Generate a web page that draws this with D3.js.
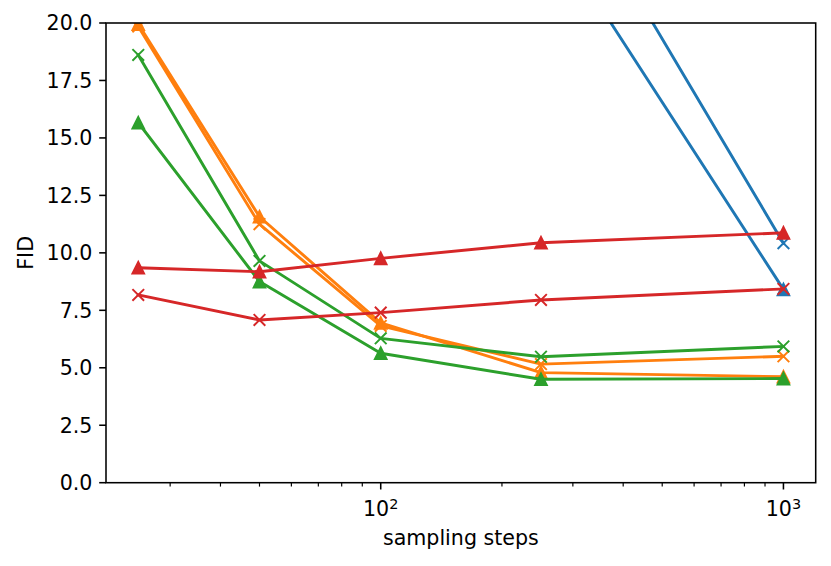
<!DOCTYPE html>
<html>
<head>
<meta charset="utf-8">
<script src="https://cdn.jsdelivr.net/npm/d3@7"></script>
<style>
  html, body { margin: 0; padding: 0; background: #fff; }
  svg { display: block; font-family: "DejaVu Sans", sans-serif; }
</style>
</head>
<body>
<svg id="chart" width="831" height="566"></svg>
<script>
// ---- data ----
const steps = [25, 50, 100, 250, 1000];
const blueX      = [110, 72, 46, 28.2, 10.42];
const blueTri    = [95, 60, 40, 24.7, 8.41];
const orangeX    = [19.85, 11.25, 6.82, 5.16, 5.5];
const orangeTri  = [19.95, 11.57, 6.95, 4.79, 4.61];
const greenX     = [18.61, 9.65, 6.28, 5.48, 5.93];
const greenTri   = [15.66, 8.75, 5.63, 4.50, 4.53];
const redX       = [8.17, 7.08, 7.40, 7.95, 8.43];
const redTri     = [9.35, 9.18, 9.76, 10.44, 10.87];
const yTicks = [0, 2.5, 5, 7.5, 10, 12.5, 15, 17.5, 20];
const xMajor = [100, 1000];
const xMajorExp = ["2", "3"];
const xMinor = [30, 40, 50, 60, 70, 80, 90, 200, 300, 400, 500, 600, 700, 800, 900];

const series = [
  { values: blueX,     color: "#1f77b4", marker: "x" },
  { values: blueTri,   color: "#1f77b4", marker: "^" },
  { values: orangeX,   color: "#ff7f0e", marker: "x" },
  { values: orangeTri, color: "#ff7f0e", marker: "^" },
  { values: greenX,    color: "#2ca02c", marker: "x" },
  { values: greenTri,  color: "#2ca02c", marker: "^" },
  { values: redX,      color: "#d62728", marker: "x" },
  { values: redTri,    color: "#d62728", marker: "^" }
];

// ---- layout ----
const W = 831, H = 566;
const m = { left: 106, top: 23, right: 15.3, bottom: 83.3 };
const pw = W - m.left - m.right, ph = H - m.top - m.bottom;
const pt = 1.944;           // px per point
const fs = 20.6;

const lo = Math.log10(25), hi = Math.log10(1000), pad = (hi - lo) * 0.05;
const x = d3.scaleLog().domain([Math.pow(10, lo - pad), Math.pow(10, hi + pad)]).range([0, pw]);
const y = d3.scaleLinear().domain([0, 20]).range([ph, 0]);

const svg = d3.select("#chart");
svg.append("defs").append("clipPath").attr("id", "clip")
  .append("rect").attr("x", 0).attr("y", 0).attr("width", pw).attr("height", ph);

const g = svg.append("g").attr("transform", `translate(${m.left},${m.top})`);

// ---- series ----
const plot = g.append("g").attr("clip-path", "url(#clip)");
const line = d3.line().x((d, i) => x(steps[i])).y(d => y(d));
const ms = 6 * pt;     // marker size
series.forEach(s => {
  const sg = plot.append("g");
  sg.append("path").attr("d", line(s.values))
    .attr("fill", "none").attr("stroke", s.color)
    .attr("stroke-width", 1.5 * pt).attr("stroke-linejoin", "round").attr("stroke-linecap", "square");
  s.values.forEach((v, i) => {
    const cx = x(steps[i]), cy = y(v);
    if (s.marker === "^") {
      const h = ms / 2;
      sg.append("path")
        .attr("d", `M${cx},${cy - h}L${cx - h},${cy + h}L${cx + h},${cy + h}Z`)
        .attr("fill", s.color).attr("stroke", s.color)
        .attr("stroke-width", 1 * pt).attr("stroke-linejoin", "miter");
    } else {
      const h = ms / 2;
      sg.append("path")
        .attr("d", `M${cx - h},${cy - h}L${cx + h},${cy + h}M${cx - h},${cy + h}L${cx + h},${cy - h}`)
        .attr("fill", "none").attr("stroke", s.color)
        .attr("stroke-width", 1 * pt).attr("stroke-linecap", "butt");
    }
  });
});

// ---- axes ----
const tickMaj = 3.5 * pt, tickMin = 2 * pt, tpad = 3.5 * pt, tw = 0.8 * pt;

// y ticks
yTicks.forEach(t => {
  g.append("line").attr("x1", -tickMaj).attr("x2", 0).attr("y1", y(t)).attr("y2", y(t))
    .attr("stroke", "#000").attr("stroke-width", tw);
  g.append("text").attr("x", -tickMaj - tpad).attr("y", y(t)).attr("dy", "0.36em")
    .attr("text-anchor", "end").attr("font-size", fs).attr("fill", "#000")
    .text(d3.format(".1f")(t));
});

// x minor ticks
xMinor.forEach(t => {
  g.append("line").attr("x1", x(t)).attr("x2", x(t)).attr("y1", ph).attr("y2", ph + tickMin)
    .attr("stroke", "#000").attr("stroke-width", 0.6 * pt);
});
// x major ticks
xMajor.forEach((t, i) => {
  g.append("line").attr("x1", x(t)).attr("x2", x(t)).attr("y1", ph).attr("y2", ph + tickMaj)
    .attr("stroke", "#000").attr("stroke-width", tw);
  const txt = g.append("text").attr("x", x(t)).attr("y", 516 - m.top)
    .attr("text-anchor", "middle").attr("font-size", fs).attr("fill", "#000");
  txt.append("tspan").text("10");
  txt.append("tspan").attr("font-size", fs * 0.7).attr("dy", -7).text(xMajorExp[i]);
});

// spines
g.append("rect").attr("x", 0).attr("y", 0).attr("width", pw).attr("height", ph)
  .attr("fill", "none").attr("stroke", "#000").attr("stroke-width", tw);

// labels
svg.append("text").attr("x", m.left + pw / 2).attr("y", 545)
  .attr("text-anchor", "middle").attr("font-size", fs).attr("fill", "#000")
  .text("sampling steps");
svg.append("text").attr("transform", `translate(33,${m.top + ph / 2}) rotate(-90)`)
  .attr("text-anchor", "middle").attr("font-size", fs).attr("fill", "#000")
  .text("FID");
</script>
</body>
</html>
